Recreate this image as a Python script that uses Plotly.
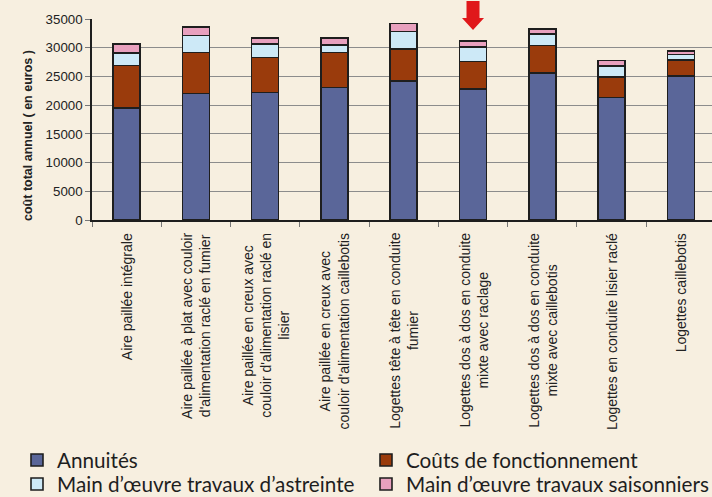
import plotly.graph_objects as go

categories = [
    "Aire paillée intégrale",
    "Aire paillée à plat avec couloir<br>d'alimentation raclé en fumier",
    "Aire paillée en creux avec<br>couloir d'alimentation raclé en<br>lisier",
    "Aire paillée en creux avec<br>couloir d'alimentation caillebotis",
    "Logettes tête à tête en conduite<br>fumier",
    "Logettes dos à dos en conduite<br>mixte avec raclage",
    "Logettes dos à dos en conduite<br>mixte avec caillebotis",
    "Logettes en conduite lisier raclé",
    "Logettes caillebotis",
]
annuites = [19500, 22000, 22200, 23100, 24200, 22800, 25600, 21300, 25100]
fonctionnement = [7400, 7200, 6100, 6100, 5600, 4800, 4800, 3600, 2800]
astreinte = [2200, 2900, 2300, 1300, 3000, 2500, 2000, 1900, 900]
saisonniers = [1500, 1500, 1100, 1200, 1400, 1100, 900, 1000, 600]

series_names = [
    "Annuités",
    "Coûts de fonctionnement",
    "Main d’œuvre travaux d’astreinte",
    "Main d’œuvre travaux saisonniers",
]
series_values = [annuites, fonctionnement, astreinte, saisonniers]
series_colors = ["#5A6699", "#9A3B0C", "#CDE9F7", "#E8A0BE"]
highlighted = 5  # index of the category pointed by the red arrow
y_title = "coût total annuel ( en euros )"

bg = "#F7EFE0"
W, H = 712, 497
label_font = dict(family="Arial, Liberation Sans, sans-serif", size=14, color="#222222")

# legend grid: (column left px, row centre px)
legend_slots = [(17, 460), (366, 460), (17, 484), (366, 484)]
legend_ids = ["legend", "legend2", "legend3", "legend4"]

fig = go.Figure()
for name, vals, col, leg in zip(series_names, series_values, series_colors, legend_ids):
    fig.add_trace(go.Bar(
        x=categories, y=vals, name=name, legend=leg,
        marker=dict(color=col, line=dict(color="#1E1E1E", width=1.6)),
        width=0.39,
    ))

annotations = [
    dict(
        x=cat, xref="x", y=0, yref="paper", yshift=-11,
        xanchor="center", yanchor="top",
        text=cat, textangle=-90, align="center", showarrow=False,
        font=label_font,
    )
    for cat in categories
]
annotations.append(dict(
    x=0, xref="paper", xshift=-64, xanchor="center",
    y=0.418, yref="paper", yanchor="middle",
    text="<b>" + y_title + "</b>", textangle=-90, showarrow=False,
    font=dict(family="Arial, Liberation Sans, sans-serif", size=12.5, color="#222222"),
))

legends = {}
for leg, (lx, ly) in zip(legend_ids, legend_slots):
    legends[leg] = dict(
        orientation="h", xref="container", yref="container",
        x=lx / W, xanchor="left", y=1 - ly / H, yanchor="middle",
        font=dict(family="Lato, sans-serif", size=20.7, color="#1E1E1E"),
        itemwidth=30, bgcolor="rgba(0,0,0,0)",
    )

fig.update_layout(
    width=W, height=H,
    barmode="stack",
    paper_bgcolor=bg, plot_bgcolor=bg,
    margin=dict(l=92, r=0, t=19, b=277, autoexpand=False),
    font=dict(family="Arial, Liberation Sans, sans-serif", color="#222222"),
    showlegend=True,
    **legends,
    xaxis=dict(
        type="category",
        range=[-0.5, 8.45],
        showticklabels=False,
        showline=True, linecolor="#1E1E1E", linewidth=2,
        ticks="outside", tickson="boundaries", ticklen=5, tickcolor="#777777",
        showgrid=False,
    ),
    yaxis=dict(
        range=[0, 35000],
        dtick=5000,
        tickformat="d",
        tickfont=dict(size=13.3, color="#222222"),
        showline=True, linecolor="#1E1E1E", linewidth=1.5,
        ticks="outside", ticklen=5, tickcolor="#777777",
        showgrid=True, gridcolor="#8C8C8C", gridwidth=1,
        zeroline=False,
    ),
    annotations=annotations,
    shapes=[dict(
        type="path", xref="x", yref="paper",
        xsizemode="pixel", ysizemode="pixel",
        xanchor=highlighted, yanchor=1,
        path="M-6.5,18 L6.5,18 L6.5,1 L11,1 L0,-11 L-11,1 L-6.5,1 Z",
        fillcolor="#E0181B", line=dict(width=0),
    )],
)

fig.write_html(
    "out.html",
    config={"displayModeBar": False},
    post_script="document.body.style.margin='0';document.body.style.background='%s';" % bg,
)
